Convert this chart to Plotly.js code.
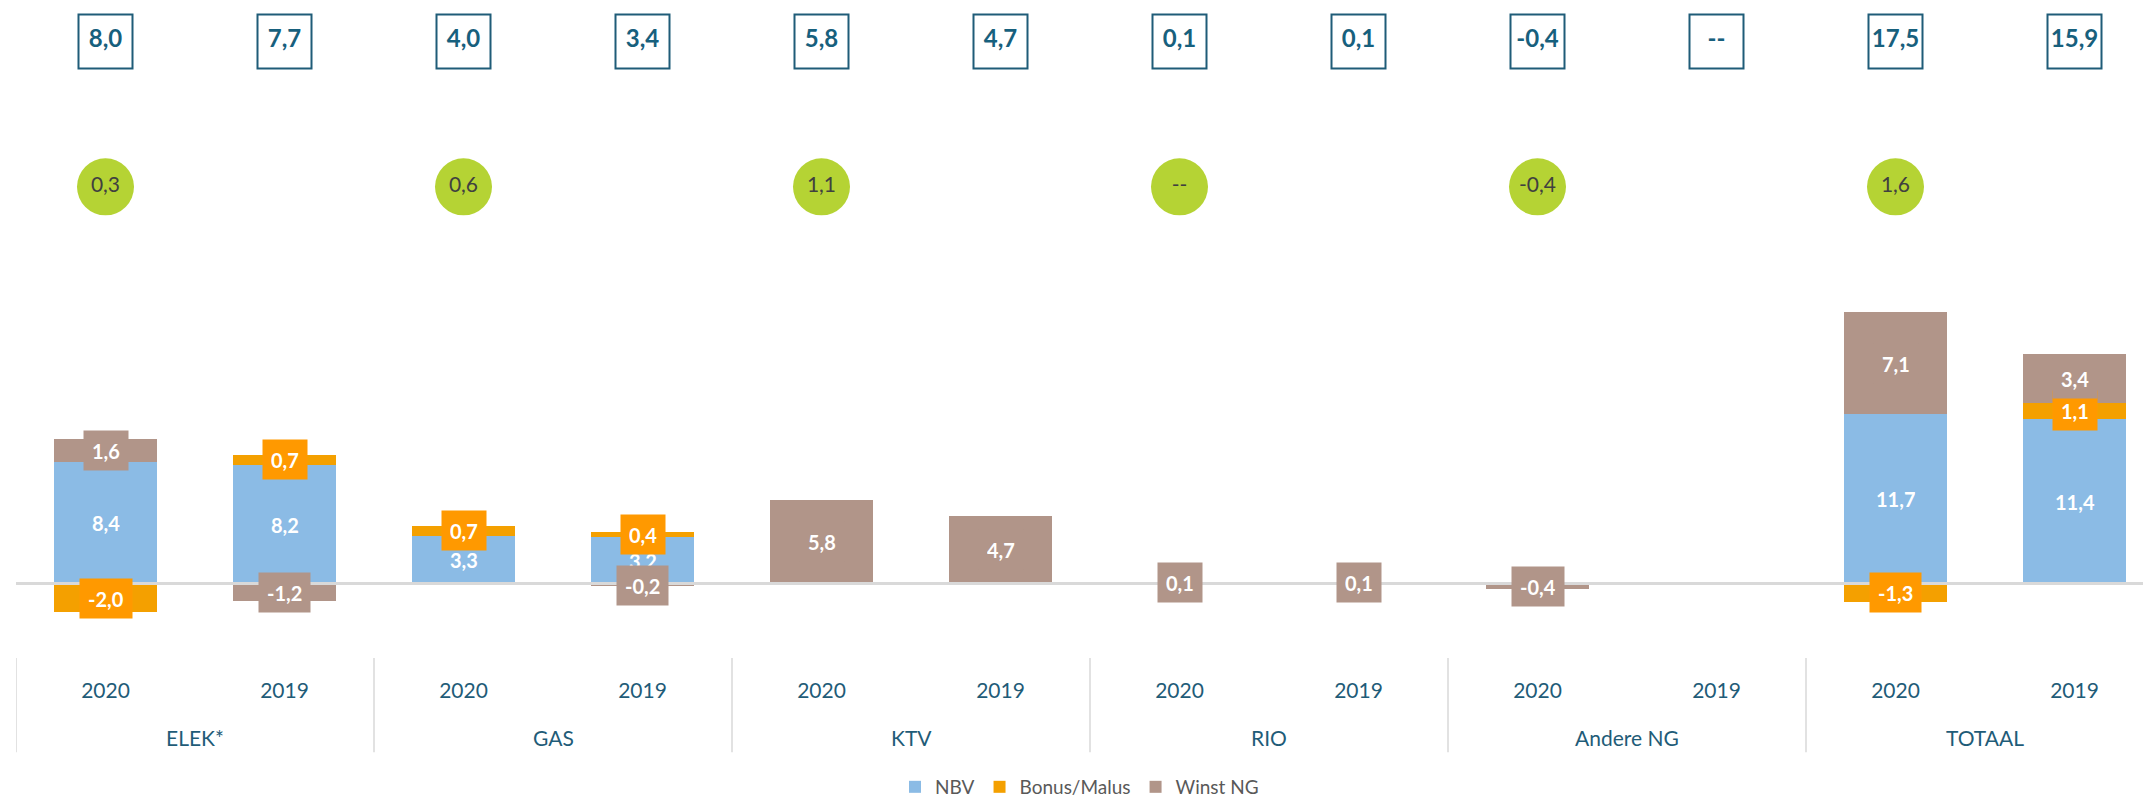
<!DOCTYPE html>
<html>
<head>
<meta charset="utf-8">
<script src="https://cdn.plot.ly/plotly-3.0.1.min.js"></script>
<style>html,body{margin:0;padding:0;background:#fff;}#chart{width:2143px;height:806px;}</style>
</head>
<body>
<div id="chart"></div>
<script>
// ---- data ----
const categories = ['ELEK*', 'GAS', 'KTV', 'RIO', 'Andere NG', 'TOTAAL'];
const years = ['2020', '2019', '2020', '2019', '2020', '2019', '2020', '2019', '2020', '2019', '2020', '2019'];
const nbv   = [8.4, 8.2, 3.3, 3.2, null, null, null, null, null, null, 11.7, 11.4];
const bonus = [-2.0, 0.7, 0.7, 0.4, null, null, null, null, null, null, -1.3, 1.1];
const winst = [1.6, -1.2, null, -0.2, 5.8, 4.7, 0.1, 0.1, -0.4, null, 7.1, 3.4];
const totals = [8.0, 7.7, 4.0, 3.4, 5.8, 4.7, 0.1, 0.1, -0.4, null, 17.5, 15.9];
const deltas = [0.3, 0.6, 1.1, null, -0.4, 1.6];   // shown above each 2020 bar

// ---- style ----
const FONT = 'Lato, "Open Sans", sans-serif';
const TEAL = '#1F5C78';
const C_NBV = '#8BBBE5', C_BON = '#F4A000', C_BON_LBL = '#FF9900', C_WIN = '#B19589';
const BOX_Y = 0.937, CIRCLE_Y = 0.716;
const fmt = v => (v === null || v === undefined) ? '--' : v.toFixed(1).replace('.', ',');
const xs = years.map((_, i) => i);

const series = [
  {name: 'NBV', vals: nbv, color: C_NBV, lbl: null},
  {name: 'Bonus/Malus', vals: bonus, color: C_BON, lbl: C_BON_LBL},
  {name: 'Winst NG', vals: winst, color: C_WIN, lbl: C_WIN}
];

const traces = series.map(s => ({
  type: 'bar', name: s.name, x: xs, y: s.vals, width: 0.57,
  marker: {color: s.color, line: {width: 0}}, hoverinfo: 'skip'
}));

// data labels at segment midpoints (relative stacking)
const annotations = [];
const posBase = xs.map(() => 0), negBase = xs.map(() => 0);
const labelLists = series.map(() => []);
series.forEach((s, si) => {
  s.vals.forEach((v, i) => {
    if (v === null) return;
    let mid;
    if (v >= 0) { mid = posBase[i] + v / 2; posBase[i] += v; }
    else { mid = negBase[i] + v / 2; negBase[i] += v; }
    labelLists[si].push({
      x: i, y: mid, xref: 'x', yref: 'y', text: fmt(v), showarrow: false,
      font: {family: FONT, size: 20, color: '#FFFFFF', weight: 'bold'},
      bgcolor: s.lbl || 'rgba(0,0,0,0)', borderpad: 8, height: 23,
      xanchor: 'center', yanchor: 'middle'
    });
  });
});
labelLists.forEach(l => annotations.push(...l));

// category labels
categories.forEach((c, k) => {
  annotations.push({
    x: 2 * k + 0.5, y: -0.1207, xref: 'x', yref: 'paper', text: c, showarrow: false,
    font: {family: FONT, size: 21, color: TEAL}, xanchor: 'center', yanchor: 'middle'
  });
});

// separators
const shapes = [];
for (let k = 0; k <= categories.length; k++) {
  shapes.push({type: 'line', xref: 'x', yref: 'paper', x0: 2 * k - 0.5, x1: 2 * k - 0.5,
    y0: 0, y1: -0.1433, line: {color: '#D9D9D9', width: 1.5}});
}

// totals boxes
traces.push({
  type: 'scatter', mode: 'markers+text', x: xs, y: xs.map(() => BOX_Y), yaxis: 'y2',
  text: totals.map(fmt), textposition: 'middle center',
  textfont: {family: FONT, size: 24, color: '#17607D', weight: 'bold'},
  marker: {symbol: 'square', size: 54, color: '#FFFFFF', line: {color: TEAL, width: 2}},
  showlegend: false, hoverinfo: 'skip', cliponaxis: false
});
// delta circles
const circX = categories.map((_, k) => 2 * k);
traces.push({
  type: 'scatter', mode: 'markers+text', x: circX, y: circX.map(() => CIRCLE_Y), yaxis: 'y2',
  text: deltas.map(fmt), textposition: 'middle center',
  textfont: {family: FONT, size: 21, color: '#404040'},
  marker: {symbol: 'circle', size: 57, color: '#B5D334', line: {width: 0}},
  showlegend: false, hoverinfo: 'skip', cliponaxis: false
});

const layout = {
  width: 2143, height: 806,
  margin: {l: 16, r: 0, t: 0, b: 143, pad: 0},
  paper_bgcolor: '#FFFFFF', plot_bgcolor: '#FFFFFF',
  barmode: 'relative', bargap: 0,
  font: {family: FONT},
  xaxis: {
    range: [-0.5, -0.5 + 2127 / 179], tickvals: xs, ticktext: years,
    showgrid: false, zeroline: false, showline: false, ticks: '',
    tickfont: {family: FONT, size: 21, color: TEAL}, ticklabelstandoff: 18,
    fixedrange: true
  },
  yaxis: {
    range: [-5.147, 40.357], showgrid: false, showticklabels: false, ticks: '',
    zeroline: true, zerolinecolor: '#D9D9D9', zerolinewidth: 3,
    layer: 'above traces', zerolinelayer: 'above traces', fixedrange: true
  },
  yaxis2: {overlaying: 'y', range: [0, 1], visible: false, fixedrange: true},
  showlegend: true,
  legend: {
    orientation: 'h', x: 0.5, xanchor: 'center', y: -0.196, yanchor: 'middle',
    font: {family: FONT, size: 19, color: '#595959'}, itemwidth: 30, traceorder: 'normal'
  },
  annotations: annotations,
  shapes: shapes
};

Plotly.newPlot('chart', traces, layout, {displayModeBar: false, staticPlot: true});
</script>
</body>
</html>
